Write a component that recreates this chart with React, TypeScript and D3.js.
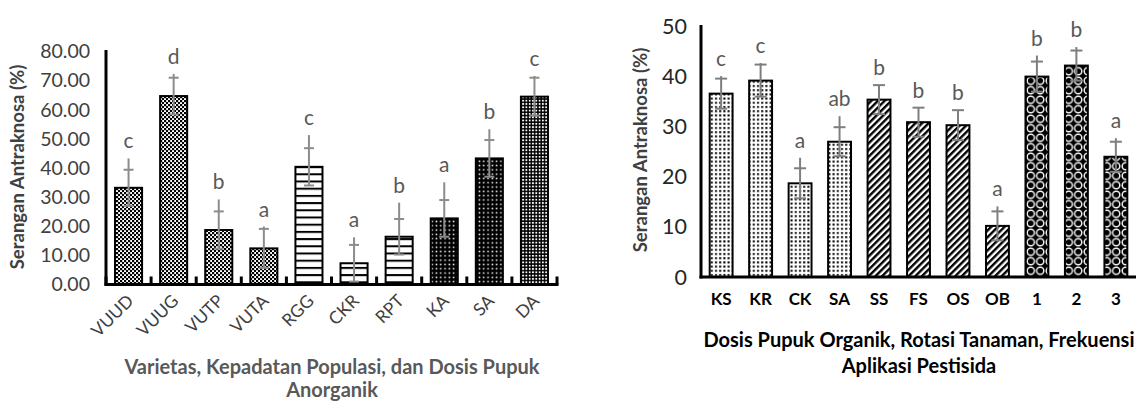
import React from "react";
import * as d3 from "d3";

// Left panel: varieties, population density and inorganic fertiliser dose
const leftCats = ["VUUD", "VUUG", "VUTP", "VUTA", "RGG", "CKR", "RPT", "KA", "SA", "DA"];
const leftValues = [33.2, 64.7, 18.7, 12.4, 40.4, 7.3, 16.4, 22.7, 43.3, 64.5];
const leftErr = [6.2, 6.3, 6.4, 6.7, 6.4, 6.3, 6.1, 6.3, 6.3, 6.5];
const leftWhiskerTop = [43.3, 72.3, 29.2, 19.9, 51.3, 16.2, 28.1, 35.1, 53.3, 71.6];
const leftLetters = ["c", "d", "b", "a", "c", "a", "b", "a", "b", "c"];
const leftTicks = [0, 10, 20, 30, 40, 50, 60, 70, 80];

// Right panel: organic fertiliser dose, crop rotation, pesticide frequency
const rightCats = ["KS", "KR", "CK", "SA", "SS", "FS", "OS", "OB", "1", "2", "3"];
const rightValues = [36.6, 39.2, 18.7, 27.0, 35.4, 30.9, 30.3, 10.2, 40.0, 42.2, 24.0];
const rightErr = [3.0, 3.2, 3.0, 2.9, 2.9, 2.9, 3.0, 2.9, 3.0, 3.0, 3.0];
const rightWhiskerTop = [40.1, 42.7, 23.8, 32.1, 38.3, 33.8, 33.3, 14.1, 44.2, 45.9, 27.7];
const rightLetters = ["c", "c", "a", "ab", "b", "b", "b", "a", "b", "b", "a"];
const rightTicks = [0, 10, 20, 30, 40, 50];

// Fill pattern per bar
const leftFills = ["checker", "checker", "checker", "checker", "hlines", "hlines", "hlines", "darkDots", "darkDots", "denseDots"];
const rightFills = ["lightDots", "lightDots", "lightDots", "lightDots", "diag", "diag", "diag", "diag", "rings", "rings", "rings"];

const FONT = "Lato, 'Open Sans', sans-serif";

function Patterns() {
  return (
    <defs>
      <pattern id="checker" width={4} height={4} patternUnits="userSpaceOnUse">
        <rect width={4} height={4} fill="#fff" />
        <rect x={0} y={0} width={2.2} height={2.2} fill="#000" />
        <rect x={2} y={2} width={2.2} height={2.2} fill="#000" />
      </pattern>
      <pattern id="hlines" width={8} height={7.2} patternUnits="userSpaceOnUse" y={0.5}>
        <rect width={8} height={7.2} fill="#fff" />
        <rect x={0} y={0} width={8} height={2} fill="#000" />
      </pattern>
      <pattern id="darkDots" width={4.3} height={4.3} patternUnits="userSpaceOnUse">
        <rect width={4.3} height={4.3} fill="#000" />
        <rect x={1.4} y={1.4} width={1.5} height={1.5} fill="#fff" />
      </pattern>
      <pattern id="denseDots" width={3.3} height={3.3} patternUnits="userSpaceOnUse">
        <rect width={3.3} height={3.3} fill="#000" />
        <rect x={0.8} y={0.8} width={1.8} height={1.8} fill="#fff" />
      </pattern>
      <pattern id="lightDots" width={4.2} height={4.2} patternUnits="userSpaceOnUse">
        <rect width={4.2} height={4.2} fill="#fff" />
        <rect x={1} y={1} width={2} height={2} fill="#000" />
      </pattern>
      <pattern id="diag" width={4.7} height={4.7} patternUnits="userSpaceOnUse" patternTransform="rotate(45)">
        <rect width={4.7} height={4.7} fill="#fff" />
        <rect x={0} y={0} width={2.4} height={4.7} fill="#000" />
      </pattern>
      <pattern id="rings" width={9.5} height={9.5} patternUnits="userSpaceOnUse">
        <rect width={9.5} height={9.5} fill="#000" />
        <circle cx={4.75} cy={4.75} r={3.6} fill="#000" stroke="#fff" strokeWidth={1.4} />
      </pattern>
    </defs>
  );
}

function ErrorBar({ x, yScale, v, e, top, cap, color }) {
  const yLow = yScale(Math.max(0, v - e));
  const yCap = yScale(v + e);
  const yTop = yScale(top);
  return (
    <g stroke={color} strokeWidth={2}>
      <line x1={x} x2={x} y1={yLow} y2={Math.min(yTop, yCap)} />
      <line x1={x - cap} x2={x + cap} y1={yCap} y2={yCap} />
      <line x1={x - cap} x2={x + cap} y1={yLow} y2={yLow} />
    </g>
  );
}

function LeftPanel() {
  const x = d3.scaleBand().domain(leftCats).range([106, 557]).paddingInner(0.4).paddingOuter(0.2);
  const y = d3.scaleLinear().domain([0, 80]).range([284.5, 51.5]);
  const step = x.step();
  const boundaries = d3.range(leftCats.length + 1).map((i) => 106 + i * step);
  return (
    <g fontFamily={FONT}>
      {leftTicks.map((t) => (
        <text key={t} x={90} y={y(t)} dy="0.35em" textAnchor="end" fontSize={19.5} fill="#404040">
          {d3.format(".2f")(t)}
        </text>
      ))}
      <text transform={`translate(24,167) rotate(-90)`} textAnchor="middle" fontSize={18.5} fontWeight="bold" fill="#404040">
        Serangan Antraknosa (%)
      </text>
      {leftCats.map((c, i) => {
        const bx = x(c);
        const cx = bx + x.bandwidth() / 2;
        return (
          <g key={c}>
            <rect x={bx} y={y(leftValues[i])} width={x.bandwidth()} height={y(0) - y(leftValues[i])}
              fill={`url(#${leftFills[i]})`} stroke="#000" strokeWidth={2} />
            <ErrorBar x={cx} yScale={y} v={leftValues[i]} e={leftErr[i]} top={leftWhiskerTop[i]} cap={5} color="#8c8c8c" />
            <text x={cx} y={y(leftWhiskerTop[i]) - 10} textAnchor="middle" fontSize={21} fill="#595959">
              {leftLetters[i]}
            </text>
            <text transform={`translate(${cx + 6},302) rotate(-45)`} textAnchor="end" fontSize={17.5} fill="#404040">
              {c}
            </text>
          </g>
        );
      })}
      {boundaries.map((b, i) => (
        <line key={i} x1={b} x2={b} y1={y(0)} y2={y(0) - 8} stroke="#000" strokeWidth={3} />
      ))}
      <line x1={106} x2={106} y1={50} y2={y(0) + 1.5} stroke="#000" strokeWidth={3} />
      <line x1={104.5} x2={558.5} y1={y(0)} y2={y(0)} stroke="#000" strokeWidth={3} />
      <text x={332} y={374} textAnchor="middle" fontSize={20} fontWeight="bold" fill="#595959">
        Varietas, Kepadatan Populasi, dan Dosis Pupuk
      </text>
      <text x={332} y={397} textAnchor="middle" fontSize={20} fontWeight="bold" fill="#595959">
        Anorganik
      </text>
    </g>
  );
}

function RightPanel() {
  const x = d3.scaleBand().domain(rightCats).range([701, 1136]).paddingInner(0.42).paddingOuter(0.22);
  const y = d3.scaleLinear().domain([0, 50]).range([277, 26.5]);
  return (
    <g fontFamily={FONT}>
      {rightTicks.map((t) => (
        <text key={t} x={687} y={y(t)} dy="0.35em" textAnchor="end" fontSize={21.5} fill="#262626">
          {t}
        </text>
      ))}
      <text transform={`translate(647,150) rotate(-90)`} textAnchor="middle" fontSize={18.5} fontWeight="bold" fill="#404040">
        Serangan Antraknosa (%)
      </text>
      {rightCats.map((c, i) => {
        const bx = x(c);
        const cx = bx + x.bandwidth() / 2;
        return (
          <g key={c}>
            <rect x={bx} y={y(rightValues[i])} width={x.bandwidth()} height={y(0) - y(rightValues[i])}
              fill={`url(#${rightFills[i]})`} stroke="#000" strokeWidth={2} />
            <ErrorBar x={cx} yScale={y} v={rightValues[i]} e={rightErr[i]} top={rightWhiskerTop[i]} cap={6} color="#7f7f7f" />
            <text x={cx} y={y(rightWhiskerTop[i]) - 10} textAnchor="middle" fontSize={21} fill="#595959">
              {rightLetters[i]}
            </text>
            <text x={cx} y={305} textAnchor="middle" fontSize={17} fontWeight="bold" fill="#000">
              {c}
            </text>
          </g>
        );
      })}
      <line x1={701} x2={701} y1={25} y2={278.5} stroke="#000" strokeWidth={3} />
      <line x1={699.5} x2={1136} y1={277} y2={277} stroke="#000" strokeWidth={3} />
      <text x={919} y={347} textAnchor="middle" fontSize={20} fontWeight="bold" fill="#000">
        Dosis Pupuk Organik, Rotasi Tanaman, Frekuensi
      </text>
      <text x={919} y={373} textAnchor="middle" fontSize={20} fontWeight="bold" fill="#000">
        Aplikasi Pestisida
      </text>
    </g>
  );
}

export default function App() {
  return (
    <svg width={1136} height={403} style={{ position: "absolute", left: 0, top: 0, background: "#fff" }}>
      <Patterns />
      <rect width={1136} height={403} fill="#fff" />
      <LeftPanel />
      <RightPanel />
    </svg>
  );
}
